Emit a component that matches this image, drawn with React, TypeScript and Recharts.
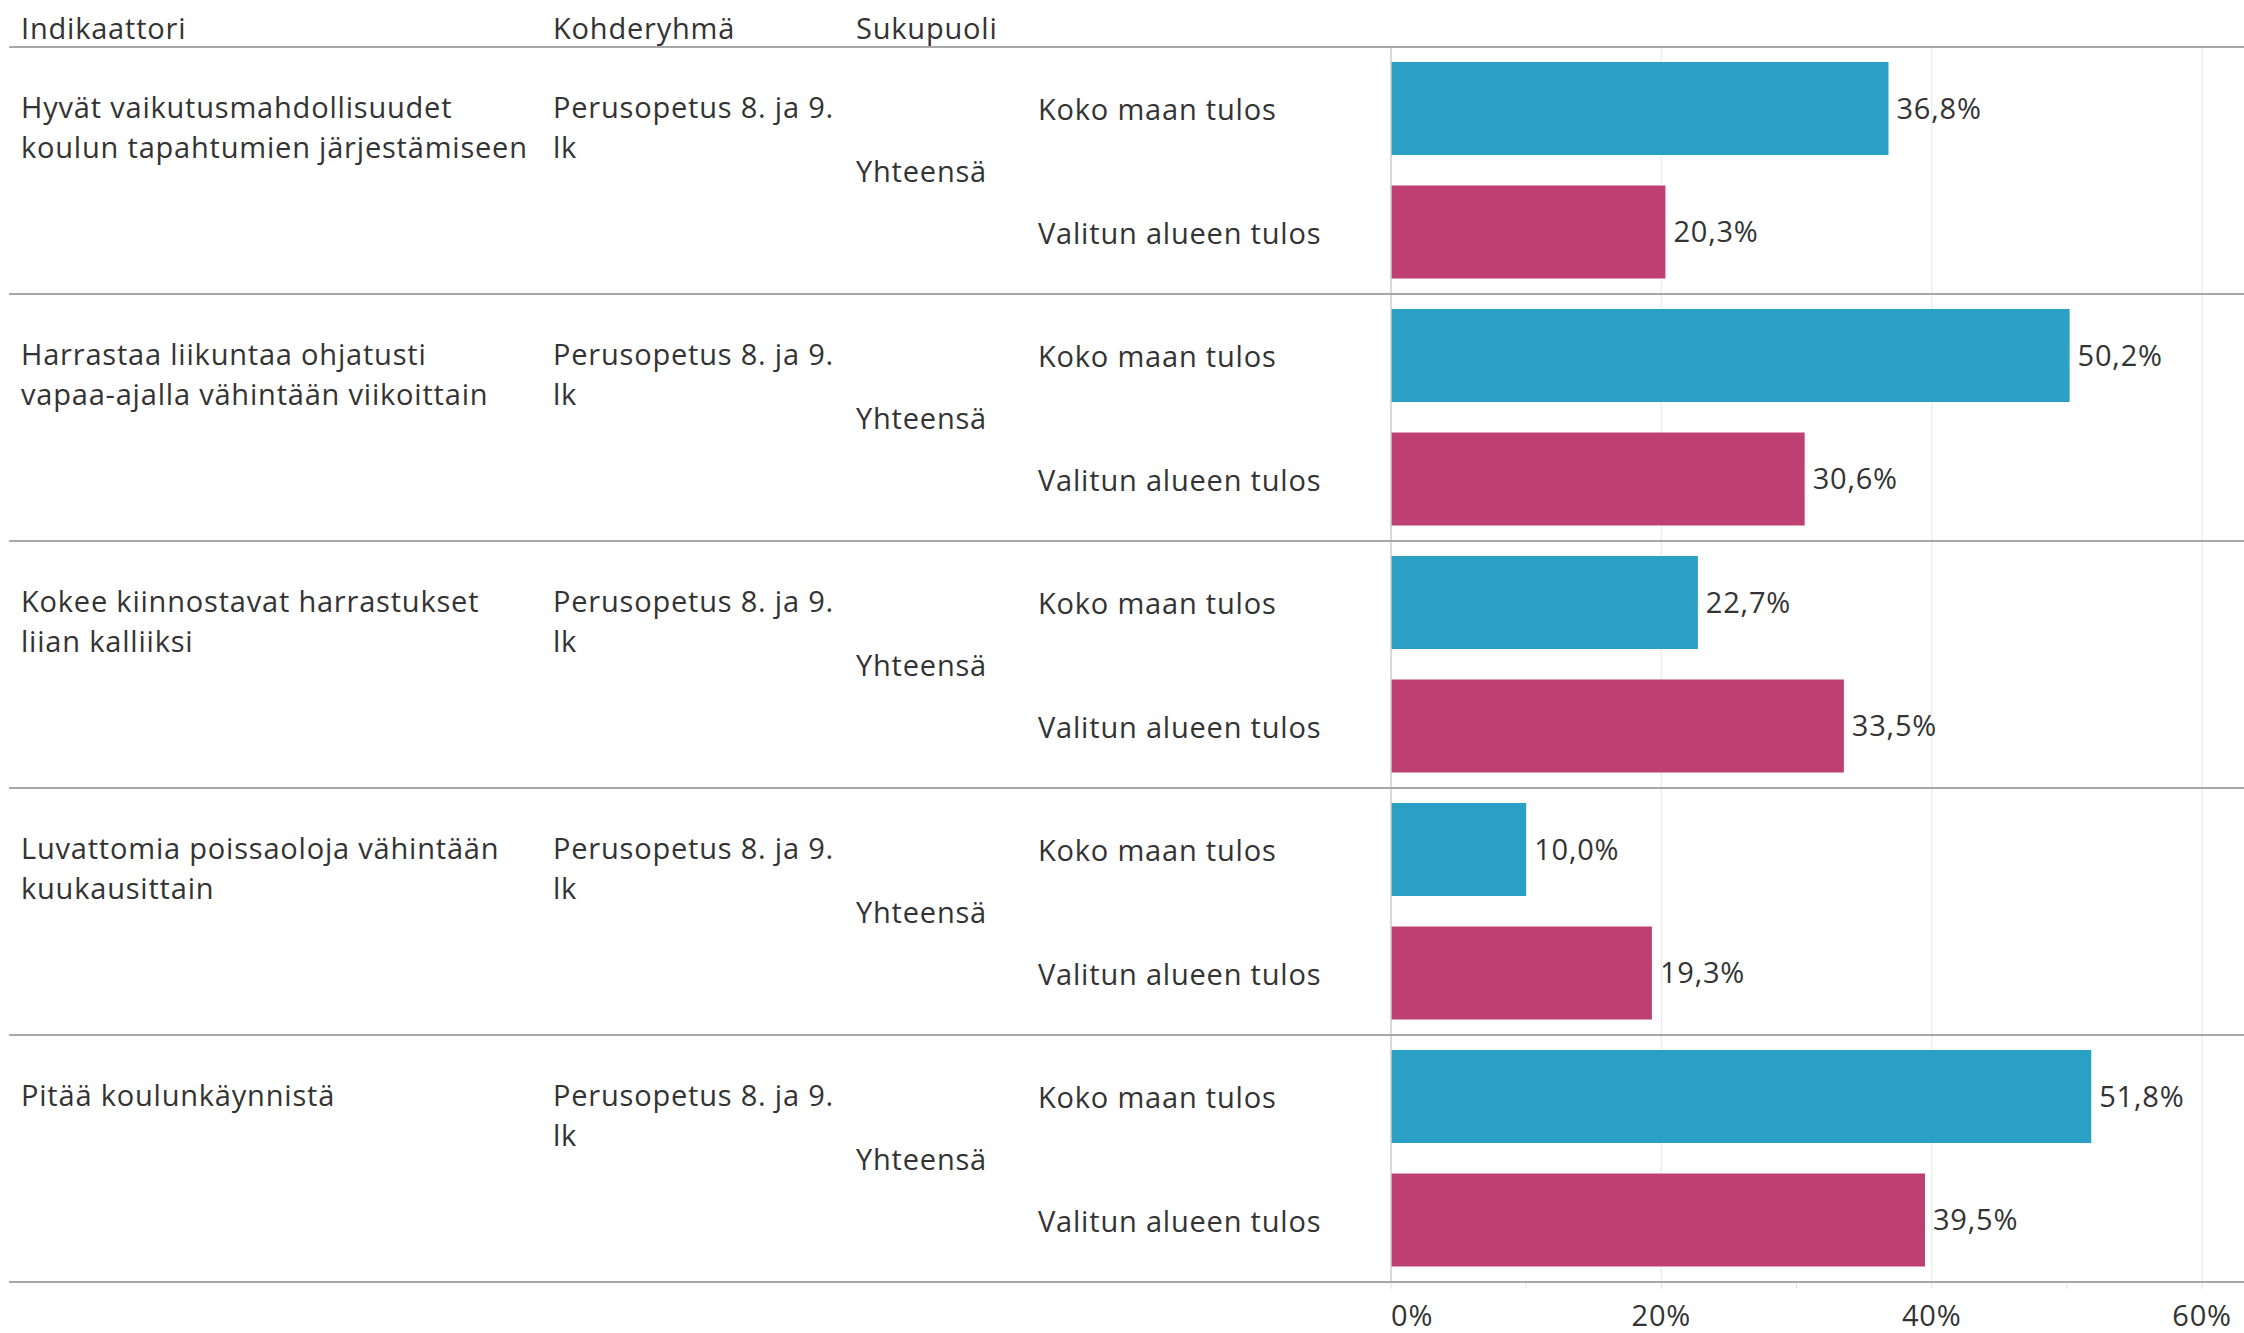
import { BarChart, Bar, XAxis, YAxis, CartesianGrid, Cell, LabelList } from "recharts"

const indicatorLines = [
  ["Hyvät vaikutusmahdollisuudet", "koulun tapahtumien järjestämiseen"],
  ["Harrastaa liikuntaa ohjatusti", "vapaa-ajalla vähintään viikoittain"],
  ["Kokee kiinnostavat harrastukset", "liian kalliiksi"],
  ["Luvattomia poissaoloja vähintään", "kuukausittain"],
  ["Pitää koulunkäynnistä"],
]
const targetGroupLines = [
  ["Perusopetus 8. ja 9.", "lk"],
  ["Perusopetus 8. ja 9.", "lk"],
  ["Perusopetus 8. ja 9.", "lk"],
  ["Perusopetus 8. ja 9.", "lk"],
  ["Perusopetus 8. ja 9.", "lk"],
]
const genders = ["Yhteensä", "Yhteensä", "Yhteensä", "Yhteensä", "Yhteensä"]
const seriesNames = ["Koko maan tulos", "Valitun alueen tulos"]
const seriesColors = ["#29a0c4", "#be4072"]
const kokoMaanValues = [36.8, 50.2, 22.7, 10.0, 51.8]
const valitunAlueenValues = [20.3, 30.6, 33.5, 19.3, 39.5]
const headers = ["Indikaattori", "Kohderyhmä", "Sukupuoli"]
const xTicks = [0, 10, 20, 30, 40, 50, 60]
const labeledTicks = [0, 20, 40, 60]

const data = indicatorLines.flatMap((_, i) => [
  { id: `${i}-0`, row: i, s: 0, value: kokoMaanValues[i] },
  { id: `${i}-1`, row: i, s: 1, value: valitunAlueenValues[i] },
])

const W = 2244
const H = 1333
const TOP = 47
const XAXIS_H = 51
const LEFT = 1391
const HALF_BAND = (H - TOP - XAXIS_H) / data.length / 2

const FONT = "'Open Sans', sans-serif"
const FS = 29
const LS = 0.8
const TEXT = "#333333"
const SEP = "#a8a8a8"

const colX = [21, 553, 856, 1038]

function RowTick(props: any) {
  const { y, payload } = props
  const d = data.find((e) => e.id === payload.value)
  if (!d) return null
  const rowTop = y - HALF_BAND
  const isLast = d.row === indicatorLines.length - 1 && d.s === 1
  return (
    <g fontFamily={FONT} fontSize={FS} fill={TEXT} letterSpacing={LS}>
      {d.s === 0 && (
        <line x1={9} x2={W} y1={rowTop} y2={rowTop} stroke={SEP} strokeWidth={2} />
      )}
      {isLast && (
        <line x1={9} x2={W} y1={y + HALF_BAND} y2={y + HALF_BAND} stroke={SEP} strokeWidth={2} />
      )}
      {d.s === 0 &&
        indicatorLines[d.row].map((t, k) => (
          <text key={"i" + k} x={colX[0]} y={rowTop + 71 + k * 40}>
            {t}
          </text>
        ))}
      {d.s === 0 &&
        targetGroupLines[d.row].map((t, k) => (
          <text key={"t" + k} x={colX[1]} y={rowTop + 71 + k * 40}>
            {t}
          </text>
        ))}
      {d.s === 0 && (
        <text x={colX[2]} y={y + HALF_BAND} dominantBaseline="central">
          {genders[d.row]}
        </text>
      )}
      <text x={colX[3]} y={y} dominantBaseline="central">
        {seriesNames[d.s]}
      </text>
    </g>
  )
}

function PercentTick(props: any) {
  const { x, payload } = props
  const v = payload.value
  if (!labeledTicks.includes(v)) return null
  return (
    <text
      x={x}
      y={TOP + (H - TOP - XAXIS_H) + 44}
      textAnchor={v === 0 ? "start" : "middle"}
      fontFamily={FONT}
      fontSize={FS}
      letterSpacing={LS}
      fill={TEXT}
    >
      {v}%
    </text>
  )
}

export default function App() {
  return (
    <div style={{ position: "absolute", left: 0, top: 0, width: W, height: H, background: "#fff" }}>
      <BarChart
        width={W}
        height={H}
        data={data}
        layout="vertical"
        margin={{ top: TOP, right: 0, bottom: 0, left: 0 }}
      >
        <CartesianGrid horizontal={false} verticalValues={[20, 40, 60]} stroke="#ececec" strokeWidth={1.5} />
        <XAxis
          type="number"
          domain={[0, 63.1]}
          ticks={xTicks}
          interval={0}
          height={XAXIS_H}
          axisLine={false}
          tickLine={{ stroke: "#e0e0e0" }}
          tickSize={7}
          tick={<PercentTick />}
          allowDataOverflow
        />
        <YAxis
          type="category"
          dataKey="id"
          width={LEFT}
          interval={0}
          tickLine={false}
          axisLine={{ stroke: "#cccccc", strokeWidth: 1.5 }}
          tick={<RowTick />}
        />
        <Bar dataKey="value" barSize={93} isAnimationActive={false}>
          {data.map((d) => (
            <Cell key={d.id} fill={seriesColors[d.s]} />
          ))}
          <LabelList
            dataKey="value"
            position="right"
            offset={8}
            formatter={(v: any) => `${Number(v).toFixed(1).replace(".", ",")}%`}
            style={{ fontFamily: FONT, fontSize: FS, fill: TEXT, letterSpacing: LS }}
          />
        </Bar>
      </BarChart>
      <svg
        width={W}
        height={TOP}
        style={{ position: "absolute", left: 0, top: 0, pointerEvents: "none" }}
      >
        {headers.map((h, i) => (
          <text key={h} x={colX[i]} y={39} fontFamily={FONT} fontSize={FS} letterSpacing={LS} fill={TEXT}>
            {h}
          </text>
        ))}
      </svg>
    </div>
  )
}
